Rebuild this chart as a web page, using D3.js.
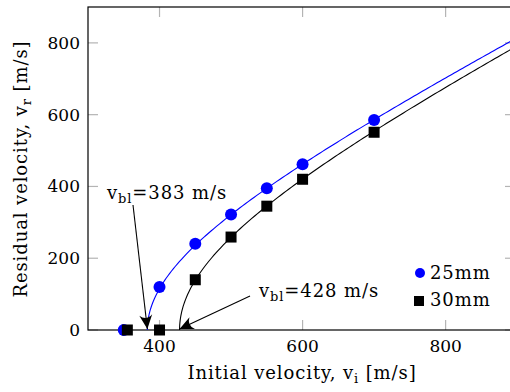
<!DOCTYPE html>
<html>
<head>
<meta charset="utf-8">
<script src="https://cdn.jsdelivr.net/npm/d3@7"></script>
<style>
  body { margin: 0; background: #fff; }
  svg { display: block; }
  text { font-family: "DejaVu Serif", serif; fill: #000; }
  .lbl { font-size: 18px; letter-spacing: 0.9px; }
</style>
</head>
<body>
<div class="chart"></div>
<script>
var width = 510, height = 392;

// measured points, 25 mm and 30 mm plates
var vi25 = [350, 400, 450, 500, 550, 600, 700];
var vr25 = [0, 120, 240, 322, 395, 462, 585];
var vi30 = [355, 400, 450, 500, 550, 600, 700];
var vr30 = [0, 0, 140, 259, 345, 420, 551];

// ballistic limits from the annotations
var vbl25 = 383, vbl30 = 428;

var xTicks = [400, 600, 800];
var yTicks = [0, 200, 400, 600, 800];

var margin = { left: 88, top: 7, right: 515, bottom: 330 };

var svg = d3.select('.chart')
    .append('svg')
    .attr('width', width)
    .attr('height', height);

var x = d3.scaleLinear().domain([300, 897]).range([margin.left, margin.right]);
var y = d3.scaleLinear().domain([0, 900]).range([margin.bottom, margin.top]);

svg.append('defs').append('clipPath').attr('id', 'clip')
    .append('rect')
    .attr('x', margin.left).attr('y', margin.top)
    .attr('width', margin.right - margin.left)
    .attr('height', margin.bottom - margin.top);

// gray ticks on all four sides, pointing inward
var tickLen = 10;
var ticks = svg.append('g').attr('stroke', '#b4b4b4').attr('stroke-width', 1.2);
xTicks.forEach(function (t) {
    ticks.append('line').attr('x1', x(t)).attr('x2', x(t)).attr('y1', margin.bottom).attr('y2', margin.bottom - tickLen);
    ticks.append('line').attr('x1', x(t)).attr('x2', x(t)).attr('y1', margin.top).attr('y2', margin.top + tickLen);
});
yTicks.forEach(function (t) {
    ticks.append('line').attr('y1', y(t)).attr('y2', y(t)).attr('x1', margin.left).attr('x2', margin.left + tickLen);
    ticks.append('line').attr('y1', y(t)).attr('y2', y(t)).attr('x1', margin.right).attr('x2', margin.right - tickLen);
});

// frame
svg.append('rect')
    .attr('x', margin.left).attr('y', margin.top)
    .attr('width', margin.right - margin.left)
    .attr('height', margin.bottom - margin.top)
    .attr('fill', 'none').attr('stroke', '#000').attr('stroke-width', 1.2);

// tick labels
svg.append('g').selectAll('text').data(xTicks).enter().append('text')
    .attr('x', function (d) { return x(d); })
    .attr('y', margin.bottom + 22)
    .attr('text-anchor', 'middle')
    .style('font-size', '17px')
    .text(function (d) { return d; });

svg.append('g').selectAll('text').data(yTicks).enter().append('text')
    .attr('x', margin.left - 8)
    .attr('y', function (d) { return y(d) + 6; })
    .attr('text-anchor', 'end')
    .style('font-size', '17px')
    .text(function (d) { return d; });

// Recht-Ipson fit: vr = sqrt(vi^2 - vbl^2)
function fitLine(vbl) {
    var xs = [vbl];
    for (var k = 0; k <= 40; k++) xs.push(vbl + 0.05 * k * k);
    xs = xs.concat(d3.range(vbl + 81, 900, 4));
    return xs.map(function (v) { return [v, Math.sqrt(Math.max(0, v * v - vbl * vbl))]; });
}

var line = d3.line()
    .x(function (d) { return x(d[0]); })
    .y(function (d) { return y(d[1]); });

var curves = svg.append('g').attr('clip-path', 'url(#clip)');
curves.append('path').attr('d', line(fitLine(vbl25)))
    .attr('fill', 'none').attr('stroke', '#0000ff').attr('stroke-width', 1.1);
curves.append('path').attr('d', line(fitLine(vbl30)))
    .attr('fill', 'none').attr('stroke', '#000').attr('stroke-width', 1.1);

// markers
svg.append('g').selectAll('circle').data(vi25).enter().append('circle')
    .attr('cx', function (d) { return x(d); })
    .attr('cy', function (d, i) { return y(vr25[i]); })
    .attr('r', 6)
    .attr('fill', '#0000ff');

var sq = 11;
svg.append('g').selectAll('rect').data(vi30).enter().append('rect')
    .attr('x', function (d) { return x(d) - sq / 2; })
    .attr('y', function (d, i) { return y(vr30[i]) - sq / 2; })
    .attr('width', sq).attr('height', sq)
    .attr('fill', '#000');

// annotation arrows
svg.append('defs').append('marker')
    .attr('id', 'arrow')
    .attr('viewBox', '-15 -7 17 14')
    .attr('refX', 0).attr('refY', 0)
    .attr('markerWidth', 17).attr('markerHeight', 14)
    .attr('markerUnits', 'userSpaceOnUse')
    .attr('orient', 'auto')
    .append('path')
    .attr('d', 'M0,0 L-14,-6.5 Q-8,0 -14,6.5 Z')
    .attr('fill', '#000');

function annotate(label, vbl, tx, ty, sx, sy) {
    svg.append('line')
        .attr('x1', sx).attr('y1', sy)
        .attr('x2', x(vbl)).attr('y2', y(0) - 1)
        .attr('stroke', '#000').attr('stroke-width', 1.1)
        .attr('marker-end', 'url(#arrow)');
    var t = svg.append('text').attr('class', 'lbl').attr('x', tx).attr('y', ty);
    t.append('tspan').text('v');
    t.append('tspan').attr('dy', 4).style('font-size', '13px').text('bl');
    t.append('tspan').attr('dy', -4).text('=' + label + ' m/s');
}
annotate(vbl25, vbl25, 107, 199, 133, 205);
annotate(vbl30, vbl30, 259, 297, 250, 296);

// legend
var legend = svg.append('g');
legend.append('circle').attr('cx', 420).attr('cy', 273).attr('r', 5).attr('fill', '#0000ff');
legend.append('rect').attr('x', 414).attr('y', 296).attr('width', 10).attr('height', 10).attr('fill', '#000');
legend.append('text').attr('class', 'lbl').attr('x', 430).attr('y', 279).text('25mm');
legend.append('text').attr('class', 'lbl').attr('x', 430).attr('y', 306).text('30mm');

// axis titles
var xt = svg.append('text')
    .attr('class', 'lbl')
    .attr('x', 302).attr('y', 379)
    .attr('text-anchor', 'middle');
xt.append('tspan').text('Initial velocity, v');
xt.append('tspan').attr('dy', 4).style('font-size', '13px').text('i');
xt.append('tspan').attr('dy', -4).text(' [m/s]');

var yt = svg.append('text')
    .attr('class', 'lbl')
    .attr('transform', 'translate(27,169) rotate(-90)')
    .attr('text-anchor', 'middle');
yt.append('tspan').text('Residual velocity, v');
yt.append('tspan').attr('dy', 4).style('font-size', '13px').text('r');
yt.append('tspan').attr('dy', -4).text(' [m/s]');
</script>
</body>
</html>
